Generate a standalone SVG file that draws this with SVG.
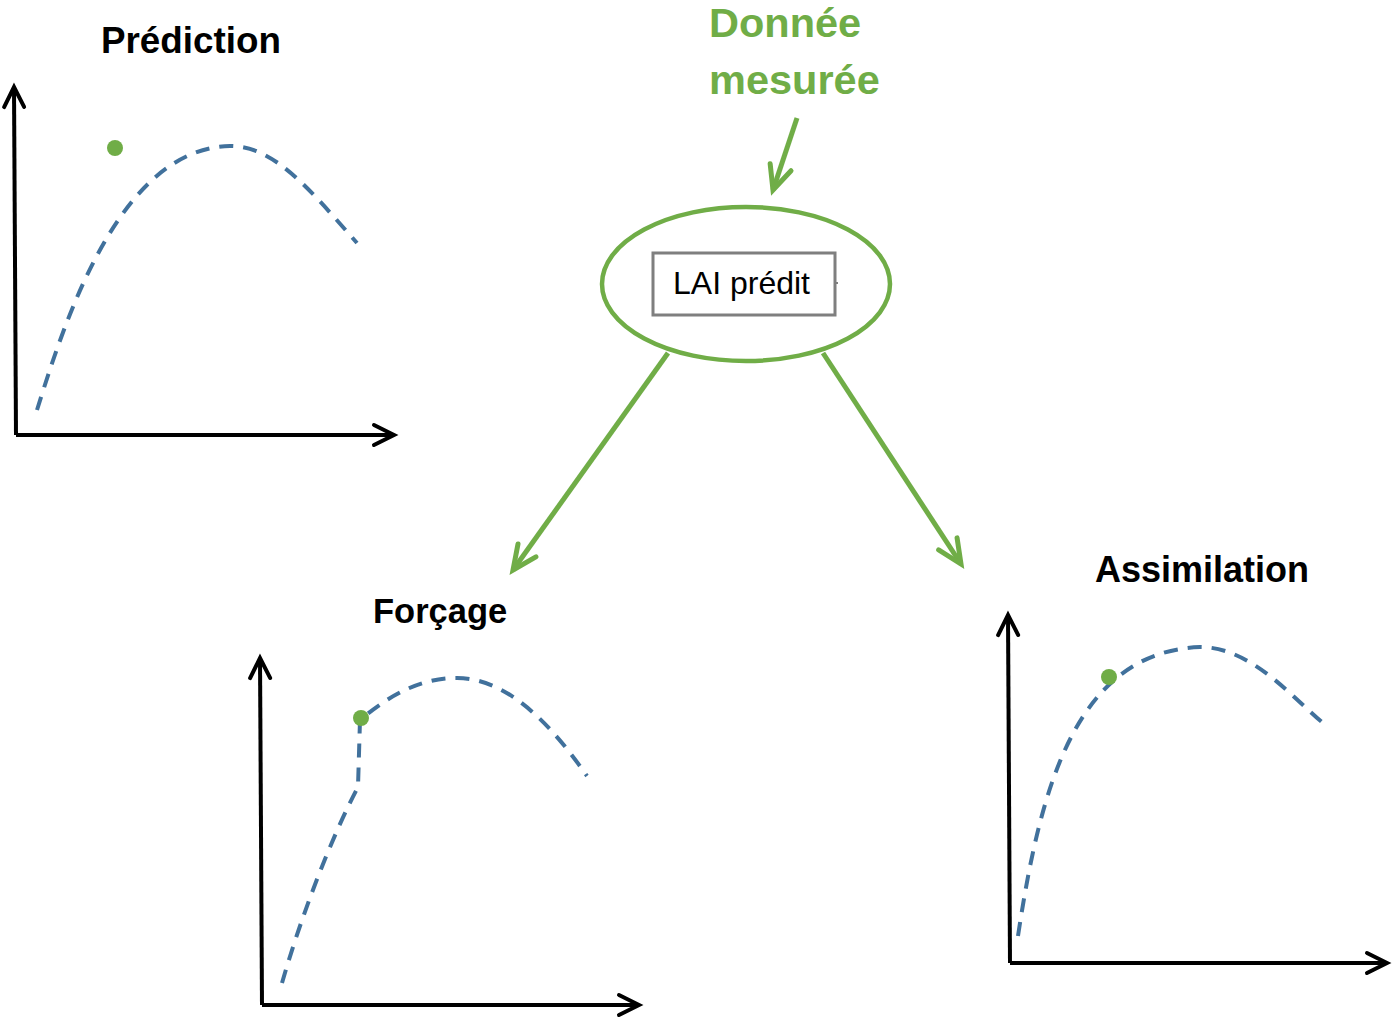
<svg xmlns="http://www.w3.org/2000/svg" width="1393" height="1023" viewBox="0 0 1393 1023">
<style>
.title{font-family:"Liberation Sans",Arial,sans-serif;font-weight:bold;font-size:36px;fill:#000}
.gtitle{font-family:"Liberation Sans",Arial,sans-serif;font-weight:bold;font-size:41.5px;fill:#70AD47}
.axis{fill:none;stroke:#000;stroke-width:4;marker-end:url(#ah)}
.curve{fill:none;stroke:#41719C;stroke-width:4;stroke-dasharray:14 10}
.dot{fill:#70AD47}
.garrow{fill:none;stroke:#70AD47;stroke-width:5;marker-end:url(#gah)}
</style>
<defs>
<marker id="ah" markerUnits="userSpaceOnUse" viewBox="-25 -15 30 30" refX="0" refY="0" markerWidth="30" markerHeight="30" orient="auto" overflow="visible">
<path d="M-20,-10 L0,0 L-20,10" fill="none" stroke="#000" stroke-width="4" stroke-linecap="round"/>
</marker>
<marker id="gah" markerUnits="userSpaceOnUse" viewBox="-30 -15 35 30" refX="0" refY="0" markerWidth="35" markerHeight="30" orient="auto" overflow="visible">
<path d="M-24,-11 L0,0 L-24,11" fill="none" stroke="#70AD47" stroke-width="5" stroke-linecap="round"/>
</marker>
</defs>
<rect width="1393" height="1023" fill="#fff"/>

<g id="prediction">
<text class="title" x="101" y="53" style="font-size:36.8px">Prédiction</text>
<path class="axis" d="M16,435 L14,87"/>
<path class="axis" d="M16,435 L394,435"/>
<path class="curve" d="M37,410 C65,320 120,148 230,146 C275,146 310,190 357,243"/>
<circle class="dot" cx="115" cy="148" r="8"/>
</g>

<g id="donnee">
<text class="gtitle" x="709" y="37">Donnée</text>
<text class="gtitle" x="709" y="94">mesurée</text>
</g>

<g id="lai">
<ellipse cx="746" cy="284" rx="144" ry="77" fill="#fff" stroke="#70AD47" stroke-width="4.5"/>
<rect x="653" y="253" width="182" height="62" fill="#fff" stroke="#7F7F7F" stroke-width="3"/>
<line x1="835" y1="283" x2="838" y2="283" stroke="#7F7F7F" stroke-width="2"/>
<text x="673" y="294" font-family="'Liberation Sans',Arial,sans-serif" font-size="32" fill="#000">LAI prédit</text>
</g>

<g id="forcage">
<text class="title" x="373" y="623" style="font-size:34.5px">Forçage</text>
<path class="axis" d="M262,1005 L260,658"/>
<path class="axis" d="M262,1005 L639,1005"/>
<path class="curve" d="M282,983 C300,920 330,840 358,787 L360,720 C390,695 420,678 457,678 C510,678 555,730 587,776"/>
<circle class="dot" cx="361" cy="718" r="8"/>
</g>

<g id="assimilation">
<text class="title" x="1095" y="582">Assimilation</text>
<path class="axis" d="M1010,963 L1008,615"/>
<path class="axis" d="M1010,963 L1387,963"/>
<path class="curve" d="M1018,936 C1040,790 1075,652 1200,647 C1250,647 1290,695 1323,723"/>
<circle class="dot" cx="1109" cy="677" r="8"/>
</g>

<g id="connectors">
<path class="garrow" d="M797,118 L773,190"/>
<path class="garrow" d="M668,353 L513,570"/>
<path class="garrow" d="M823,353 L961,564"/>
</g>
</svg>
